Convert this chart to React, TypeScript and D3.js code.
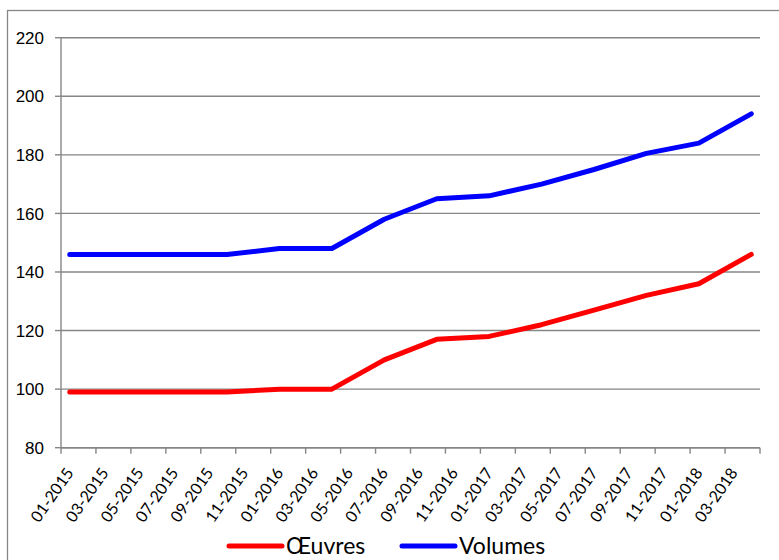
import React from "react";
import * as d3 from "d3";

// Quarterly observations
const dates = ["01-2015","04-2015","07-2015","10-2015","01-2016","04-2016","07-2016","10-2016","01-2017","04-2017","07-2017","10-2017","01-2018","04-2018"];
const oeuvres = [99, 99, 99, 99, 100, 100, 110, 117, 118, 122, 127, 132, 136, 146];
const volumes = [146, 146, 146, 146, 148, 148, 158, 165, 166, 170, 175, 180.5, 184, 194];

// Axis tick labels (every two months)
const xTickLabels = ["01-2015","03-2015","05-2015","07-2015","09-2015","11-2015","01-2016","03-2016","05-2016","07-2016","09-2016","11-2016","01-2017","03-2017","05-2017","07-2017","09-2017","11-2017","01-2018","03-2018"];
const yTicks = [80, 100, 120, 140, 160, 180, 200, 220];
const seriesNames = ["Œuvres", "Volumes"];
const seriesColors = ["#ff0000", "#0000ff"];

const W = 779, H = 560;
const M = { left: 61, right: 760, top: 37.7, bottom: 447.7 };

const fmt = d3.timeFormat("%m-%Y");
const allMonths = d3.timeMonth.range(new Date(2015, 0, 1), new Date(2018, 4, 1)).map(fmt);

export default function App() {
  const x = d3.scaleBand<string>().domain(allMonths).range([M.left, M.right]).paddingInner(0).paddingOuter(0);
  const y = d3.scaleLinear().domain([80, 220]).range([M.bottom, M.top]);
  const bw = x.bandwidth();
  const cx = (m: string) => (x(m) as number) + bw / 2;

  const line = d3.line<number>().x((_, i) => cx(dates[i])).y((v) => y(v));
  const series = [oeuvres, volumes];

  const tickPositions = allMonths.filter((_, i) => i % 2 === 0).map((m) => x(m) as number).concat([M.right]);
  const gray = "#868686";

  return (
    <svg width={W} height={H} style={{ position: "absolute", left: 0, top: 0, background: "#fff" }}>
      <rect x={7.5} y={10.5} width={900} height={700} fill="#fff" stroke={gray} strokeWidth={1.3} />
      {yTicks.map((t) => (
        <g key={t}>
          <line x1={M.left} x2={M.right} y1={y(t)} y2={y(t)} stroke={gray} strokeWidth={1.4} />
          <line x1={M.left - 6} x2={M.left} y1={y(t)} y2={y(t)} stroke={gray} strokeWidth={1.4} />
          <text x={44} y={y(t)} dy="0.36em" textAnchor="end" fontFamily="'Liberation Sans', Arial, sans-serif" fontSize={17} fill="#000">{t}</text>
        </g>
      ))}
      <line x1={M.left} x2={M.left} y1={M.top} y2={M.bottom} stroke={gray} strokeWidth={1.4} />
      <line x1={M.left} x2={M.right} y1={M.bottom} y2={M.bottom} stroke={gray} strokeWidth={1.4} />
      {tickPositions.map((p, i) => (
        <line key={i} x1={p} x2={p} y1={M.bottom} y2={M.bottom + 6} stroke={gray} strokeWidth={1.4} />
      ))}
      {xTickLabels.map((lab) => (
        <text key={lab} transform={`translate(${cx(lab)},${M.bottom + 22}) rotate(-55)`} textAnchor="end" dy="0.35em"
          fontFamily="Lato, sans-serif" fontSize={16} fill="#000">{lab}</text>
      ))}
      {series.map((s, i) => (
        <path key={i} d={line(s) as string} fill="none" stroke={seriesColors[i]} strokeWidth={5} strokeLinecap="round" strokeLinejoin="round" />
      ))}
      {seriesNames.map((n, i) => {
        const lx = i === 0 ? 229 : 402;
        return (
          <g key={n}>
            <line x1={lx} x2={lx + 53} y1={546} y2={546} stroke={seriesColors[i]} strokeWidth={5} strokeLinecap="round" />
            <text x={lx + 57} y={546} dy="0.36em" fontFamily="Lato, sans-serif" fontSize={23} fill="#000">{n}</text>
          </g>
        );
      })}
    </svg>
  );
}
